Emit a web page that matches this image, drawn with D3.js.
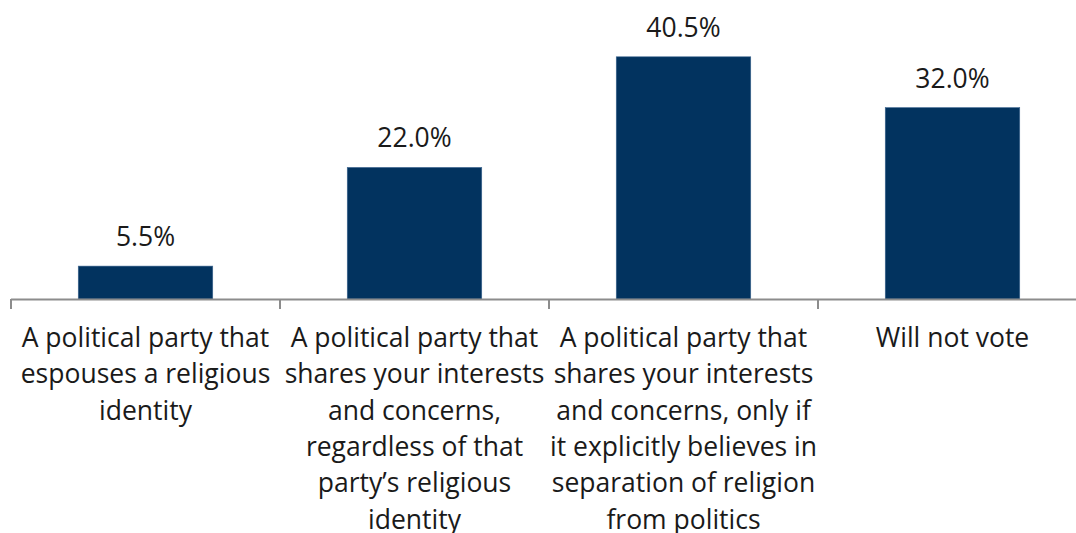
<!DOCTYPE html>
<html><head><meta charset="utf-8">
<script src="https://cdn.jsdelivr.net/npm/d3@7"></script>
<style>html,body{margin:0;padding:0;background:#fff;}svg{display:block;}</style>
</head><body>
<svg id="chart" width="1076" height="533"></svg>
<script>
const categories = [
  "A political party that espouses a religious identity",
  "A political party that shares your interests and concerns, regardless of that party\u2019s religious identity",
  "A political party that shares your interests and concerns, only if it explicitly believes in separation of religion from politics",
  "Will not vote"
];
const values = [5.5, 22.0, 40.5, 32.0];
const valueLabels = ["5.5%", "22.0%", "40.5%", "32.0%"];

const svg = d3.select("#chart");
const font = "'Open Sans', sans-serif";
const fs = 26.5;
const x = d3.scaleBand().domain(categories).range([11, 1087]).paddingInner(0.5).paddingOuter(0.25);
const y = d3.scaleLinear().domain([0, 50]).range([299, 0]);

svg.selectAll("rect.bar").data(values).enter().append("rect")
  .attr("class","bar")
  .attr("x",(d,i)=>x(categories[i]))
  .attr("width",x.bandwidth())
  .attr("y",d=>y(d))
  .attr("height",d=>y(0)-y(d))
  .attr("fill","#02335f")
  .attr("stroke","#3d6690").attr("stroke-width",0.6);

svg.selectAll("text.val").data(values).enter().append("text")
  .attr("class","val")
  .attr("x",(d,i)=>x(categories[i])+x.bandwidth()/2)
  .attr("y",d=>y(d)-20)
  .attr("text-anchor","middle")
  .attr("font-family",font).attr("font-size",fs).attr("fill","#1a1a1a")
  .text((d,i)=>valueLabels[i]);

// axis
const step = x.step();
const start = x.range()[0];
svg.append("line").attr("x1",start).attr("x2",start+step*categories.length)
  .attr("y1",y(0)+0.5).attr("y2",y(0)+0.5).attr("stroke","#8c8c8c").attr("stroke-width",2);
const ticks = d3.range(categories.length+1).map(i=>start+i*step);
svg.selectAll("line.tick").data(ticks).enter().append("line")
  .attr("x1",d=>d).attr("x2",d=>d).attr("y1",y(0)).attr("y2",y(0)+10)
  .attr("stroke","#8c8c8c").attr("stroke-width",2);

// category labels with wrapping
const maxW = step + 2;
categories.forEach((c,i)=>{
  const t = svg.append("text")
    .attr("x", x(c)+x.bandwidth()/2)
    .attr("text-anchor","middle")
    .attr("font-family",font).attr("font-size",fs).attr("fill","#1a1a1a");
  const words = c.split(" ");
  let lines = [], cur = [];
  const probe = svg.append("text").attr("font-family",font).attr("font-size",fs);
  words.forEach(w=>{
    const test = cur.concat([w]).join(" ");
    probe.text(test);
    if (probe.node().getComputedTextLength() > maxW && cur.length) {
      lines.push(cur.join(" ")); cur = [w];
    } else cur.push(w);
  });
  lines.push(cur.join(" "));
  probe.remove();
  lines.forEach((l,j)=>{
    t.append("tspan").attr("x", x(c)+x.bandwidth()/2).attr("y", 347 + j*36.3).text(l);
  });
});
</script>
</body></html>
